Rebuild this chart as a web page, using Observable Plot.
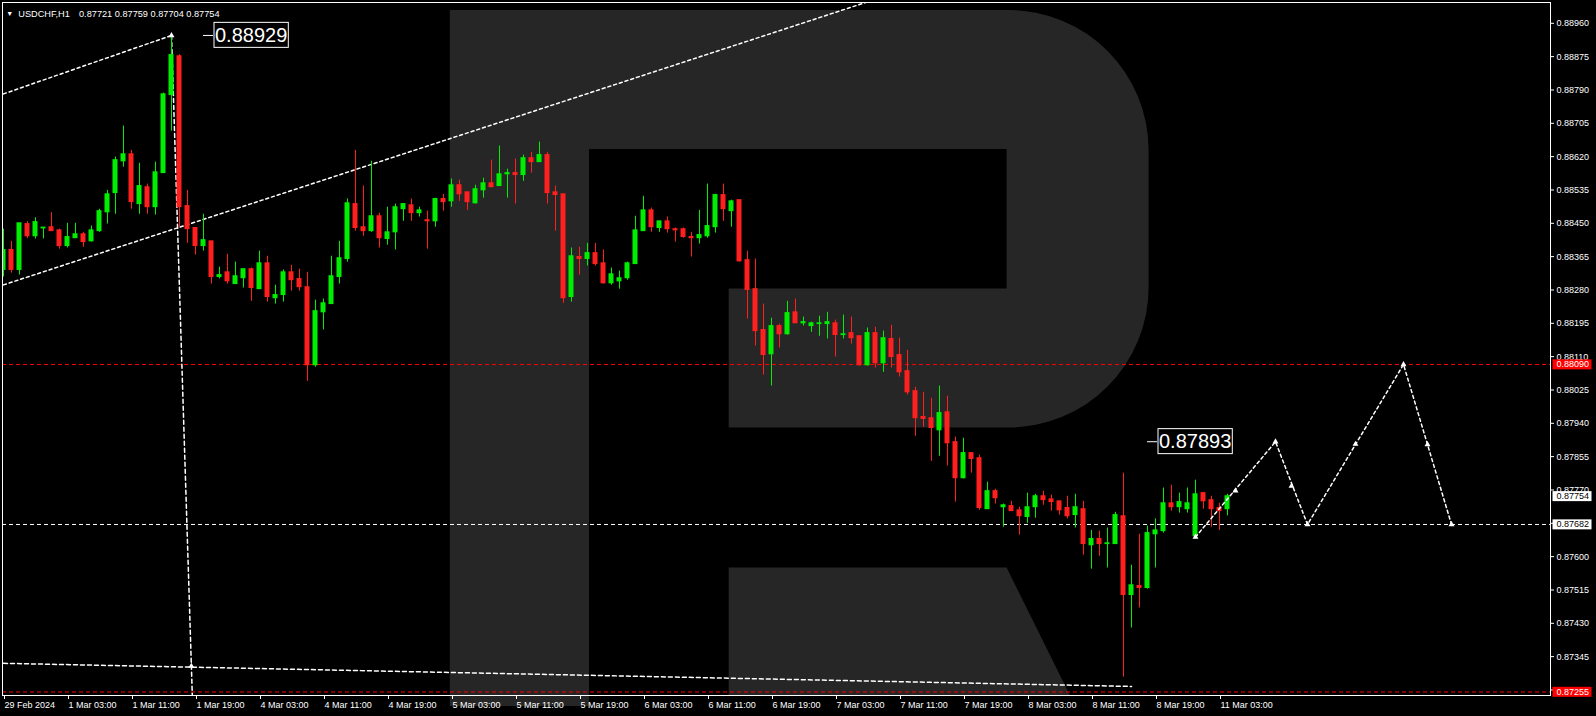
<!DOCTYPE html>
<html><head><meta charset="utf-8">
<script src="https://cdn.jsdelivr.net/npm/d3@7"></script>
<script src="https://cdn.jsdelivr.net/npm/@observablehq/plot@0.6"></script>
<style>
html,body{margin:0;padding:0;background:#000;}
#wrap{position:relative;width:1596px;height:716px;background:#000;overflow:hidden;}
#wm{position:absolute;left:0;top:0;}
#chart{position:absolute;left:0;top:0;}
</style></head><body>
<div id="wrap">
<svg id="wm" width="1596" height="716">
<path fill="#262626" d="M449.8,10 H1008.6 A140,140 0 0 1 1148.6,150 V287.5 A140,140 0 0 1 1008.6,427.5 H728.7 V288.6 H1006.6 V148.9 H589 V706 H449.8 Z"/>
<path fill="#262626" d="M728.7,567.6 H1006.6 L1070,695.5 H728.7 Z"/>
</svg>
<div id="chart"></div>
</div>
<script>
// ---- data (USDCHF H1, bar index 0 = 29 Feb 2024 19:00) ----
const openP = [
0.88331,0.88382,0.88331,0.88448,0.88417,0.88437,0.88440,0.88432,0.88392,0.88412,
0.88422,0.88404,0.88430,0.88478,0.88527,0.88608,0.88626,0.88499,0.88542,0.88491,
0.88578,0.88777,0.88876,0.88494,0.88438,0.88392,0.88404,0.88313,0.88325,0.88295,
0.88310,0.88333,0.88282,0.88348,0.88259,0.88267,0.88325,0.88308,0.88287,0.88088,
0.88223,0.88244,0.88313,0.88359,0.88499,0.88440,0.88430,0.88468,0.88410,0.88427,
0.88486,0.88496,0.88476,0.88458,0.88455,0.88512,0.88506,0.88547,0.88529,0.88501,
0.88534,0.88552,0.88545,0.88575,0.88578,0.88573,0.88616,0.88606,0.88624,0.88529,
0.88524,0.88262,0.88364,0.88359,0.88374,0.88348,0.88297,0.88302,0.88310,0.88346,
0.88430,0.88483,0.88438,0.88455,0.88435,0.88435,0.88415,0.88412,0.88417,0.88440,
0.88522,0.88481,0.88509,0.88356,0.88282,0.88178,0.88116,0.88188,0.88167,0.88223,
0.88195,0.88188,0.88193,0.88193,0.88195,0.88165,0.88170,0.88162,0.88088,0.88170,
0.88093,0.88155,0.88114,0.88073,0.88022,0.87956,0.87953,0.87922,0.87968,0.87892,
0.87800,0.87864,0.87851,0.87721,0.87767,0.87726,0.87729,0.87718,0.87701,0.87726,
0.87754,0.87746,0.87741,0.87724,0.87706,0.87721,0.87629,0.87645,0.87632,0.87632,
0.87703,0.87502,0.87525,0.87520,0.87657,0.87665,0.87736,0.87726,0.87721,0.87652,
0.87762,0.87744,0.87724,0.87721];
const highP = [
0.88435,0.88404,0.88450,0.88454,0.88464,0.88439,0.88477,0.88435,0.88450,0.88450,
0.88427,0.88443,0.88486,0.88534,0.88619,0.88698,0.88636,0.88603,0.88550,0.88606,
0.88782,0.88929,0.88880,0.88534,0.88438,0.88473,0.88404,0.88338,0.88371,0.88351,
0.88333,0.88336,0.88379,0.88366,0.88292,0.88331,0.88343,0.88333,0.88325,0.88254,
0.88257,0.88366,0.88404,0.88512,0.88636,0.88545,0.88608,0.88476,0.88491,0.88499,
0.88499,0.88512,0.88491,0.88481,0.88514,0.88524,0.88563,0.88560,0.88529,0.88547,
0.88565,0.88611,0.88647,0.88588,0.88614,0.88624,0.88631,0.88657,0.88631,0.88545,
0.88524,0.88387,0.88389,0.88399,0.88399,0.88382,0.88336,0.88328,0.88351,0.88468,
0.88519,0.88489,0.88455,0.88466,0.88438,0.88438,0.88427,0.88483,0.88550,0.88524,
0.88550,0.88509,0.88509,0.88379,0.88359,0.88244,0.88208,0.88193,0.88251,0.88257,
0.88211,0.88198,0.88213,0.88223,0.88203,0.88216,0.88211,0.88162,0.88183,0.88185,
0.88175,0.88190,0.88157,0.88126,0.88032,0.88019,0.88004,0.88035,0.88009,0.87905,
0.87902,0.87864,0.87859,0.87790,0.87772,0.87734,0.87741,0.87726,0.87762,0.87759,
0.87767,0.87757,0.87741,0.87754,0.87759,0.87741,0.87667,0.87665,0.87673,0.87713,
0.87813,0.87578,0.87657,0.87678,0.87696,0.87775,0.87782,0.87762,0.87775,0.87795,
0.87764,0.87754,0.87736,0.87759];
const lowP = [
0.88313,0.88323,0.88318,0.88411,0.88410,0.88410,0.88430,0.88384,0.88387,0.88412,
0.88389,0.88402,0.88427,0.88448,0.88473,0.88593,0.88486,0.88473,0.88473,0.88471,
0.88578,0.88685,0.88438,0.88399,0.88369,0.88379,0.88295,0.88308,0.88295,0.88295,
0.88285,0.88251,0.88282,0.88249,0.88244,0.88249,0.88277,0.88277,0.88047,0.88083,
0.88178,0.88244,0.88295,0.88351,0.88430,0.88417,0.88427,0.88387,0.88394,0.88382,
0.88455,0.88455,0.88466,0.88384,0.88440,0.88481,0.88491,0.88506,0.88483,0.88499,
0.88514,0.88542,0.88545,0.88514,0.88499,0.88557,0.88578,0.88606,0.88499,0.88430,
0.88246,0.88249,0.88318,0.88341,0.88341,0.88295,0.88292,0.88282,0.88305,0.88346,
0.88430,0.88427,0.88427,0.88425,0.88402,0.88412,0.88364,0.88397,0.88412,0.88425,
0.88455,0.88440,0.88351,0.88206,0.88137,0.88063,0.88035,0.88132,0.88165,0.88195,
0.88188,0.88172,0.88162,0.88155,0.88109,0.88155,0.88142,0.88086,0.88086,0.88081,
0.88070,0.88081,0.88058,0.88012,0.87907,0.87930,0.87843,0.87856,0.87831,0.87739,
0.87798,0.87813,0.87718,0.87721,0.87734,0.87675,0.87716,0.87655,0.87685,0.87698,
0.87731,0.87716,0.87706,0.87696,0.87673,0.87604,0.87568,0.87601,0.87571,0.87632,
0.87293,0.87418,0.87469,0.87517,0.87571,0.87660,0.87716,0.87711,0.87711,0.87645,
0.87721,0.87675,0.87667,0.87704];
const closeP = [
0.88382,0.88331,0.88450,0.88417,0.88453,0.88439,0.88430,0.88392,0.88415,0.88422,
0.88402,0.88432,0.88481,0.88524,0.88611,0.88626,0.88504,0.88545,0.88491,0.88580,
0.88779,0.88879,0.88491,0.88435,0.88392,0.88407,0.88313,0.88318,0.88302,0.88315,
0.88333,0.88285,0.88348,0.88262,0.88267,0.88325,0.88305,0.88287,0.88088,0.88226,
0.88246,0.88315,0.88361,0.88501,0.88438,0.88430,0.88468,0.88412,0.88427,0.88491,
0.88499,0.88476,0.88483,0.88455,0.88512,0.88504,0.88547,0.88524,0.88504,0.88537,
0.88552,0.88542,0.88575,0.88578,0.88573,0.88616,0.88606,0.88624,0.88527,0.88522,
0.88259,0.88366,0.88359,0.88374,0.88346,0.88297,0.88320,0.88310,0.88348,0.88432,
0.88483,0.88440,0.88455,0.88435,0.88432,0.88415,0.88412,0.88420,0.88443,0.88522,
0.88486,0.88506,0.88353,0.88280,0.88175,0.88114,0.88188,0.88167,0.88221,0.88195,
0.88198,0.88195,0.88195,0.88198,0.88165,0.88167,0.88157,0.88088,0.88170,0.88093,
0.88157,0.88109,0.88070,0.88019,0.87953,0.87951,0.87928,0.87966,0.87889,0.87800,
0.87864,0.87849,0.87724,0.87767,0.87749,0.87731,0.87716,0.87703,0.87726,0.87754,
0.87744,0.87739,0.87718,0.87703,0.87726,0.87632,0.87645,0.87632,0.87634,0.87706,
0.87502,0.87527,0.87520,0.87660,0.87667,0.87736,0.87726,0.87739,0.87736,0.87759,
0.87741,0.87721,0.87716,0.87754];

const tickIdx = [0,8,16,24,32,40,48,56,64,72,80,88,96,104,112,120,128,136,144,152];
const tickLabels = ["29 Feb 2024","1 Mar 03:00","1 Mar 11:00","1 Mar 19:00","4 Mar 03:00","4 Mar 11:00","4 Mar 19:00","5 Mar 03:00","5 Mar 11:00","5 Mar 19:00","6 Mar 03:00","6 Mar 11:00","6 Mar 19:00","7 Mar 03:00","7 Mar 11:00","7 Mar 19:00","8 Mar 03:00","8 Mar 11:00","8 Mar 19:00","11 Mar 03:00"];
const priceTicks = [0.87260,0.87345,0.87430,0.87515,0.87600,0.87685,0.87770,0.87855,0.87940,0.88025,0.88110,0.88195,0.88280,0.88365,0.88450,0.88535,0.88620,0.88705,0.88790,0.88875,0.88960];

const headerSymbol = "USDCHF,H1";
const headerOHLC = "0.87721 0.87759 0.87704 0.87754";

// horizontal levels
const redLevels = [0.88090, 0.87255];
const whiteLevels = [0.87682];
// right-axis highlighted labels
const hlRedPrice = [0.88090, 0.87255];
const hlWhitePrice = [0.87754, 0.87682];

// trend lines (bar index, price)
const upperIdx = [0, 21], upperPrice = [0.88780, 0.88929];
const lowerIdx = [0, 110], lowerPrice = [0.88293, 0.89028];
const vertIdx = [21, 23.6], vertPrice = [0.88929, 0.87246];
const baseIdx = [0, 141], basePrice = [0.87328, 0.87269];
// forecast zigzag
const zzIdx = [149, 159, 163, 175, 181];
const zzPrice = [0.87650, 0.87893, 0.87682, 0.88090, 0.87682];
const mkIdx = [21, 23.48, 149, 154, 159, 161, 163, 169, 175, 178, 181];
const mkPrice = [0.88929, 0.87321, 0.87650, 0.87768, 0.87893, 0.87780, 0.87682, 0.87887, 0.88090, 0.87886, 0.87682];
// price labels
const annoIdx = [25, 143];
const annoPrice = [0.88929, 0.87893];

// ---- build ----
const UP = "#00ee00", DN = "#ff1f1f";
const bars = openP.map((o, i) => ({i, o, h: highP[i], l: lowP[i], c: closeP[i]}));
const bull = bars.filter(d => d.c >= d.o), bear = bars.filter(d => d.c < d.o);
const pts = (xs, ys) => xs.map((x, k) => ({x, y: ys[k]}));
const anno = annoIdx.map((i, k) => ({i, p: annoPrice[k], t: annoPrice[k].toFixed(5)}));
const xL = -0.125, xR = 193.375;
const hw = 0.3125;

const chart = Plot.plot({
  width: 1596, height: 716,
  marginLeft: 2, marginRight: 46, marginTop: 2, marginBottom: 21,
  style: {background: "transparent", color: "white", fontFamily: "'Liberation Sans', Arial, sans-serif", fontSize: "9px", overflow: "visible"},
  x: {type: "linear", domain: [xL, xR], axis: null},
  y: {type: "linear", domain: [0.872459, 0.8901304], axis: null},
  marks: [
    Plot.ruleY(redLevels, {y: d => d, stroke: "#ff0000", strokeDasharray: "4,3"}),
    Plot.ruleY(whiteLevels, {y: d => d, stroke: "white", strokeDasharray: "4,3"}),
    Plot.line(pts(upperIdx, upperPrice), {x: "x", y: "y", stroke: "white", strokeDasharray: "3,3", clip: true}),
    Plot.line(pts(lowerIdx, lowerPrice), {x: "x", y: "y", stroke: "white", strokeDasharray: "3,3", clip: true}),
    Plot.line(pts(vertIdx, vertPrice), {x: "x", y: "y", stroke: "white", strokeDasharray: "4,3", clip: true}),
    Plot.line(pts(baseIdx, basePrice), {x: "x", y: "y", stroke: "white", strokeDasharray: "4,3", clip: true}),
    Plot.ruleX(bull, {x: "i", y1: "l", y2: "h", stroke: UP, clip: true}),
    Plot.ruleX(bear, {x: "i", y1: "l", y2: "h", stroke: DN, clip: true}),
    Plot.rect(bull, {x1: d => d.i - hw, x2: d => d.i + hw, y1: "o", y2: "c", fill: UP, insetTop: -0.5, insetBottom: -0.5, clip: true}),
    Plot.rect(bear, {x1: d => d.i - hw, x2: d => d.i + hw, y1: "o", y2: "c", fill: DN, insetTop: -0.5, insetBottom: -0.5, clip: true}),
    Plot.line(pts(zzIdx, zzPrice), {x: "x", y: "y", stroke: "white", strokeDasharray: "3,3", clip: true}),
    Plot.dot(pts(mkIdx, mkPrice), {x: "x", y: "y", r: 2.2, symbol: "triangle", fill: "white", stroke: "none"}),
    Plot.axisY({ticks: priceTicks, anchor: "right", tickSize: 3, tickPadding: 3, tickFormat: d => d.toFixed(5), label: null}),
    Plot.axisX({ticks: tickIdx, anchor: "bottom", tickSize: 4, tickPadding: 2, textAnchor: "start", dx: 1, label: null,
      tickFormat: d => tickLabels[tickIdx.indexOf(d)]}),
    Plot.frame({stroke: "white"}),
    Plot.text(["\u25BC"], {text: d => d, frameAnchor: "top-left", dx: 7.2, dy: 8.2, textAnchor: "middle", fontSize: 7, fill: "white"}),
    Plot.text([headerSymbol], {text: d => d, frameAnchor: "top-left", dx: 15.8, dy: 8.2, textAnchor: "start", fontSize: 9.2, fill: "white"}),
    Plot.text([headerOHLC], {text: d => d, frameAnchor: "top-left", dx: 76.5, dy: 8.2, textAnchor: "start", fontSize: 9.2, fill: "white"}),
    Plot.ruleY(anno, {y: "p", x1: "i", x2: d => d.i + 1.25, stroke: "white"}),
    Plot.text(anno, {x: "i", y: "p", text: "t", dx: 11.5, textAnchor: "start", fontSize: 20, fill: "white", ariaDescription: "anno"}),
    Plot.text(hlRedPrice, {x: () => xR, y: d => d, text: d => d.toFixed(5), dx: 6, textAnchor: "start", fill: "white", ariaDescription: "hlred"}),
    Plot.text(hlWhitePrice, {x: () => xR, y: d => d, text: d => d.toFixed(5), dx: 6, textAnchor: "start", fill: "black", ariaDescription: "hlwhite"})
  ]
});
document.getElementById("chart").appendChild(chart);

const NS = "http://www.w3.org/2000/svg";
function addBoxes(label, f) {
  chart.querySelectorAll(`g[aria-description="${label}"] text`).forEach(t => {
    const b = t.getBBox();
    const r = document.createElementNS(NS, "rect");
    const a = f(b);
    for (const k in a) r.setAttribute(k, a[k]);
    const tr = t.getAttribute("transform");
    if (tr) r.setAttribute("transform", tr);
    t.parentNode.insertBefore(r, t);
  });
}
addBoxes("anno", b => ({x: b.x - 1, y: b.y + b.height / 2 - 12.5, width: b.width + 2, height: 25, fill: "black", stroke: "white", "stroke-width": 1}));
addBoxes("hlred", b => ({x: b.x - 4, y: b.y + b.height / 2 - 5, width: 39, height: 10, fill: "#ff0000"}));
addBoxes("hlwhite", b => ({x: b.x - 4, y: b.y + b.height / 2 - 5, width: 39, height: 10, fill: "white"}));
</script>
</body></html>
